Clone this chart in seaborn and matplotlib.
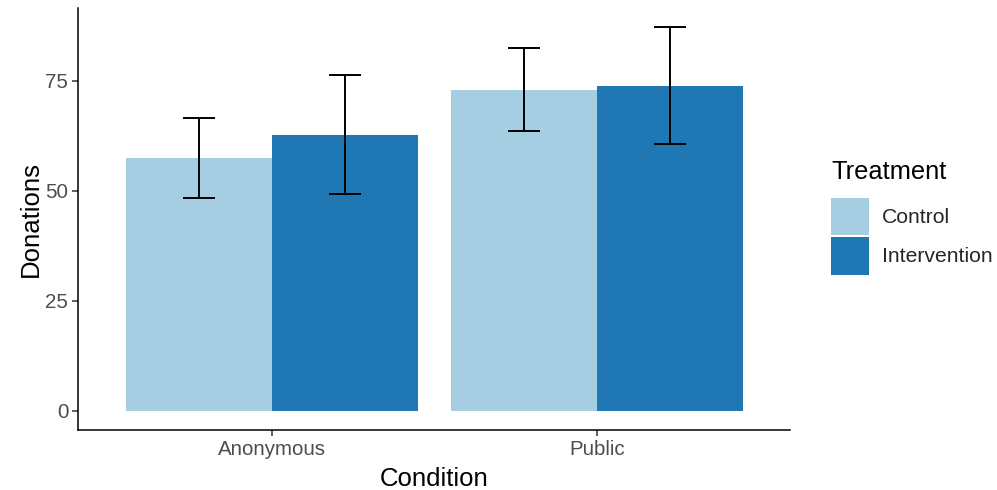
import matplotlib
matplotlib.use("Agg")
import matplotlib.pyplot as plt
import seaborn as sns
import pandas as pd
import numpy as np
from matplotlib.patches import Patch

conditions = ["Anonymous", "Anonymous", "Public", "Public"]
treatments = ["Control", "Intervention", "Control", "Intervention"]
donations = [57.4, 62.7, 72.9, 73.8]
ci_low = [48.4, 49.2, 63.6, 60.7]
ci_high = [66.5, 76.2, 82.4, 87.1]

treatment_order = ["Control", "Intervention"]
condition_order = ["Anonymous", "Public"]
palette = {"Control": "#A6CEE3", "Intervention": "#1F78B4"}

df = pd.DataFrame({
    "Condition": conditions,
    "Treatment": treatments,
    "Donations": donations,
    "low": ci_low,
    "high": ci_high,
})

sns.set_theme(style="ticks")
plt.rcParams["font.family"] = ["Liberation Sans", "DejaVu Sans"]

fig = plt.figure(figsize=(9.97, 4.9), dpi=100)
ax = fig.add_axes([78 / 997, 60 / 490, (790 - 78) / 997, (430 - 8) / 490])

sns.barplot(data=df, x="Condition", y="Donations", hue="Treatment",
            order=condition_order, hue_order=treatment_order,
            palette=palette, width=0.9, errorbar=None, saturation=1,
            linewidth=0, edgecolor="none", ax=ax, legend=False)

# error bars centred on each bar
for container, trt in zip(ax.containers, treatment_order):
    sub = df[df["Treatment"] == trt].set_index("Condition").loc[condition_order]
    xs = [p.get_x() + p.get_width() / 2 for p in container.patches]
    ys = sub["Donations"].values
    yerr = np.vstack([ys - sub["low"].values, sub["high"].values - ys])
    ax.errorbar(xs, ys, yerr=yerr, fmt="none", ecolor="black",
                elinewidth=1.4, capsize=11.5, capthick=1.4, zorder=3)

ax.set_xlim(-0.597, 1.594)
ax.set_ylim(-4.4, 91.5)
ax.set_yticks([0, 25, 50, 75])

for s in ["top", "right"]:
    ax.spines[s].set_visible(False)
for s in ["left", "bottom"]:
    ax.spines[s].set_linewidth(1.1)
    ax.spines[s].set_color("black")

ax.tick_params(axis="both", labelsize=14.8, labelcolor="#4D4D4D",
               color="#333333", length=4, width=1.1, pad=3)
ax.set_xlabel("Condition", fontsize=18.5, color="black", labelpad=6)
ax.set_ylabel("Donations", fontsize=18.5, color="black", labelpad=2)

# legend: title placed above the key boxes
fig.text(831 / 997, 1 - 172 / 490, "Treatment", fontsize=18.3,
         color="black", ha="left", va="center")
handles = [Patch(facecolor=palette[t], edgecolor="none", label=t) for t in treatment_order]
leg = fig.legend(handles=handles, loc="upper left",
                 bbox_to_anchor=(831 / 997, 1 - 198 / 490), frameon=False,
                 fontsize=15.2, handlelength=1.8, borderpad=0,
                 handleheight=2.35, labelspacing=0.08, handletextpad=0.6,
                 borderaxespad=0)

fig.savefig("out.png", dpi=100)
